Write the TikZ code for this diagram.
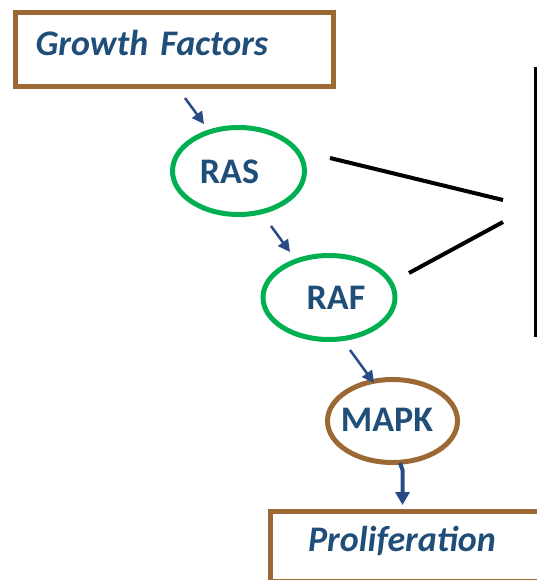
\documentclass[tikz,border=0pt]{standalone}
\usepackage{fontspec}
\setmainfont{Carlito}
\usetikzlibrary{arrows.meta,shapes.geometric}
\definecolor{brownb}{RGB}{156,104,52}
\definecolor{greenb}{RGB}{0,176,80}
\definecolor{bluet}{RGB}{31,78,121}
\definecolor{bluea}{RGB}{40,75,135}
\tikzset{
  txt/.style={text=bluet,font=\fontsize{36}{42}\selectfont\bfseries},
  itxt/.style={text=bluet,font=\fontsize{36}{42}\selectfont\bfseries\itshape},
  boxb/.style={draw=brownb,line width=5pt,rectangle,inner sep=0pt},
  ellg/.style={draw=greenb,line width=5pt,ellipse,inner sep=0pt},
  ellb/.style={draw=brownb,line width=5pt,ellipse,inner sep=0pt},
  arr/.style={draw=bluea,line width=2.5pt,-{Triangle[length=12pt,width=12pt]}},
  arrthick/.style={draw=bluea,line width=4pt,-{Triangle[length=13pt,width=14pt]}},
  blk/.style={draw=black,line width=4pt},
}
\begin{document}
\begin{tikzpicture}[x=1pt,y=-1pt]
\useasboundingbox (0,0) rectangle (537,580);
\clip (0,0) rectangle (537,580);
% boxes
\node[boxb,itxt,minimum height=74pt,text width=277pt,inner xsep=20.5pt,align=left,
      text height=26pt,text depth=14pt,anchor=north west] (gf) at (12.5,10.5) {Growth Factors};
\node[boxb,minimum width=277.5pt,minimum height=70pt,anchor=north west] (prolbox) at (267.5,508.5) {};
\node[itxt] (prol) at (402,541) {Proliferation};
% ellipses
\node[ellg,minimum width=132pt,minimum height=87pt] (ras) at (238.5,171) {};
\node[txt] (rast) at (229.5,172) {RAS};
\node[ellg,minimum width=132pt,minimum height=84pt] (raf) at (329,297.5) {};
\node[txt] (raft) at (336,298) {RAF};
\node[ellb,minimum width=130pt,minimum height=83pt] (mapk) at (392.5,421) {};
\node[txt] (mapkt) at (387,420) {MAPK};
% arrows
\coordinate (a1s) at (185,98);
\coordinate (a1e) at (204,124);
\draw[arr] (a1s) -- (a1e);
\coordinate (a2s) at (271,226);
\coordinate (a2e) at (290,252);
\draw[arr] (a2s) -- (a2e);
\coordinate (a3s) at (350,350);
\coordinate (a3e) at (374,383);
\draw[arr] (a3s) -- (a3e);
\coordinate (a4s) at (400,463);
\coordinate (a4m) at (402.5,470);
\coordinate (a4e) at (402.5,505);
\draw[arrthick] (a4s) -- (a4m) -- (a4e);
% black lines
\coordinate (l1s) at (330,158);
\coordinate (l1e) at (503,200);
\coordinate (l2s) at (409,273);
\coordinate (l2e) at (503,222);
\coordinate (vt) at (536,67);
\coordinate (vb) at (536,337);
\draw[blk] (l1s) -- (l1e);
\draw[blk] (l2s) -- (l2e);
\draw[blk] (vt) -- (vb);
\end{tikzpicture}
\end{document}
